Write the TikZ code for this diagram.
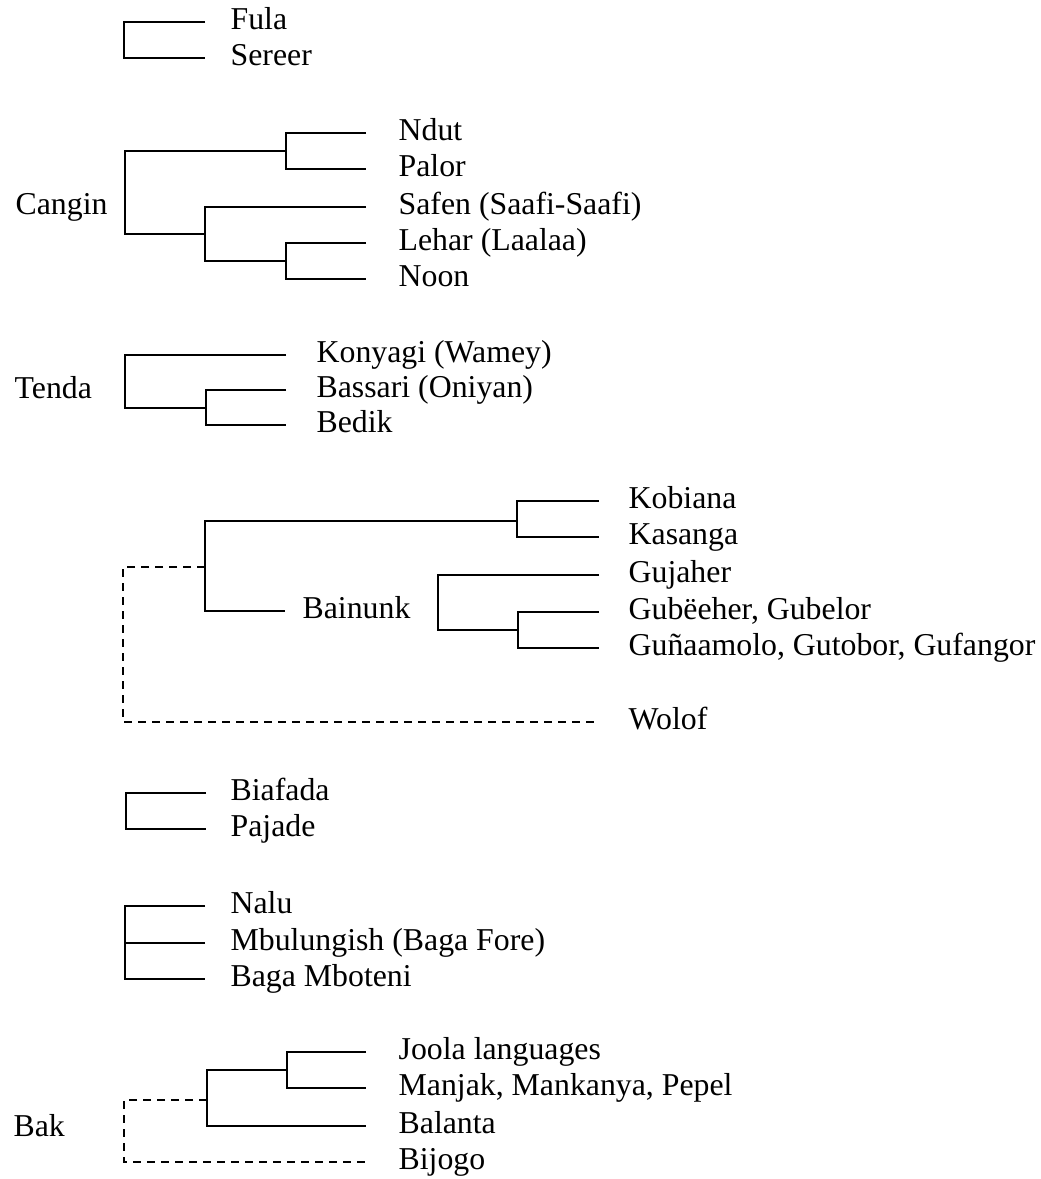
\documentclass[tikz,border=0pt]{standalone}
\usepackage{fontspec}
\setmainfont{Liberation Serif}

\begin{document}
\fontsize{23.85}{28}\selectfont
\begin{tikzpicture}[x=0.75pt, y=-0.75pt, line width=1pt,
	leaf/.style={anchor=mid west, inner ysep=0pt, inner xsep=#1, font=\fontsize{23.85}{28}\selectfont},
	leaf/.default=18.75pt,
	group/.style={anchor=mid west, inner sep=0pt, font=\fontsize{23.85}{28}\selectfont},
	link/.style={dash pattern=on 6pt off 4.5pt}]
	\useasboundingbox (0,0) rectangle (1040,1179);

	% Fula, Sereer
	\node[leaf] (fula) at (205,22) {Fula};
	\node[leaf] (sereer) at (205,58) {Sereer};
	\coordinate (fs) at (124,40);
	\draw (fula.mid west) -| (fs) |- (sereer.mid west);

	% Cangin
	\node[group] (cangin) at (15,207) {Cangin};
	\node[leaf=24pt] (ndut) at (366,133) {Ndut};
	\node[leaf=24pt] (palor) at (366,169) {Palor};
	\node[leaf=24pt] (safen) at (366,207) {Safen (Saafi-Saafi)};
	\node[leaf=24pt] (lehar) at (366,243) {Lehar (Laalaa)};
	\node[leaf=24pt] (noon) at (366,279) {Noon};
	\coordinate (np) at (286,151);
	\coordinate (ln) at (286,261);
	\coordinate (sln) at (205,234);
	\coordinate (can) at (125,192);
	\draw (ndut.mid west) -| (np) |- (palor.mid west);
	\draw (lehar.mid west) -| (ln) |- (noon.mid west);
	\draw (safen.mid west) -| (sln) |- (ln);
	\draw (np) -| (can) |- (sln);

	% Tenda
	\node[group] (tenda) at (14,391) {Tenda};
	\node[leaf=22.5pt] (konyagi) at (286,355) {Konyagi (Wamey)};
	\node[leaf=22.5pt] (bassari) at (286,390) {Bassari (Oniyan)};
	\node[leaf=22.5pt] (bedik) at (286,425) {Bedik};
	\coordinate (bb) at (206,408);
	\coordinate (ten) at (125,381);
	\draw (bassari.mid west) -| (bb) |- (bedik.mid west);
	\draw (konyagi.mid west) -| (ten) |- (bb);

	% Bainunk, Kobiana--Kasanga, Wolof
	\node[leaf=21.75pt] (kobiana) at (599,501) {Kobiana};
	\node[leaf=21.75pt] (kasanga) at (599,537) {Kasanga};
	\node[leaf=21.75pt] (gujaher) at (599,575) {Gujaher};
	\node[leaf=21.75pt] (gubeeher) at (599,612) {Gubëeher, Gubelor};
	\node[leaf=21.75pt] (gunaamolo) at (599,648) {Guñaamolo, Gutobor, Gufangor};
	\node[leaf=12.75pt] (bainunk) at (285,611) {Bainunk};
	\node[leaf=22.5pt] (wolof) at (598,722) {Wolof};
	\coordinate (kk) at (517,521);
	\coordinate (gg) at (518,630);
	\coordinate (bai) at (438,603);
	\coordinate (bk) at (205,567);
	\coordinate (wo) at (123,722);
	\draw (kobiana.mid west) -| (kk) |- (kasanga.mid west);
	\draw (gubeeher.mid west) -| (gg) |- (gunaamolo.mid west);
	\draw (gujaher.mid west) -| (bai) |- (gg);
	\draw (kk) -| (bk) |- (bainunk.mid west);
	\draw[link] (bk) -| (wo) -- (wolof.mid west);

	% Biafada, Pajade
	\node[leaf=18pt] (biafada) at (206,793) {Biafada};
	\node[leaf=18pt] (pajade) at (206,829) {Pajade};
	\coordinate (bp) at (126,811);
	\draw (biafada.mid west) -| (bp) |- (pajade.mid west);

	% Nalu group
	\node[leaf] (nalu) at (205,906) {Nalu};
	\node[leaf] (mbulungish) at (205,943) {Mbulungish (Baga Fore)};
	\node[leaf] (mboteni) at (205,979) {Baga Mboteni};
	\coordinate (nm) at (125,943);
	\draw (nalu.mid west) -| (nm) |- (mboteni.mid west);
	\draw (mbulungish.mid west) -- (nm);

	% Bak
	\node[group] (bak) at (13,1129) {Bak};
	\node[leaf=24pt] (joola) at (366,1052) {Joola languages};
	\node[leaf=24pt] (manjak) at (366,1088) {Manjak, Mankanya, Pepel};
	\node[leaf=24pt] (balanta) at (366,1126) {Balanta};
	\node[leaf=24pt] (bijogo) at (366,1162) {Bijogo};
	\coordinate (jm) at (287,1070);
	\coordinate (jmb) at (207,1100);
	\coordinate (bij) at (124,1162);
	\draw (joola.mid west) -| (jm) |- (manjak.mid west);
	\draw (jm) -| (jmb) |- (balanta.mid west);
	\draw[link] (jmb) -| (bij) -- (bijogo.mid west);
\end{tikzpicture}
\end{document}
